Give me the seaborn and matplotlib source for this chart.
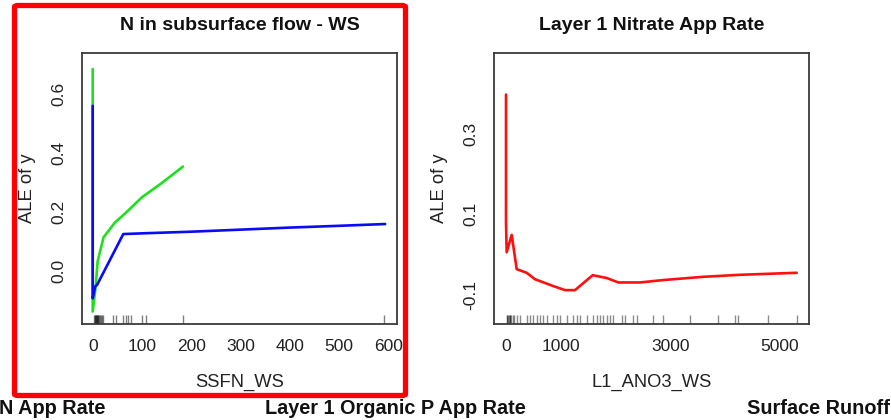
import matplotlib
matplotlib.use("Agg")
import matplotlib.pyplot as plt
from matplotlib.patches import FancyBboxPatch
import seaborn as sns
import pandas as pd

# --- ALE curves ---------------------------------------------------------
ssfn_green_x = [0, 0, 6, 10, 14, 22, 45, 69, 100, 140, 183]
ssfn_green_y = [0.685, -0.138, -0.053, 0.032, 0.06, 0.114, 0.164, 0.200, 0.250, 0.298, 0.354]

ssfn_blue_x = [0, 0, 5, 9, 62, 110, 200, 300, 400, 500, 593]
ssfn_blue_y = [0.56, -0.093, -0.053, -0.047, 0.125, 0.128, 0.133, 0.140, 0.147, 0.153, 0.159]

ano3_x = [0, 0, 12, 104, 195, 377, 529, 864, 1077, 1259, 1582, 1837, 2050,
          2445, 2871, 3600, 4270, 5305]
ano3_y = [0.397, 0.082, 0.006, 0.049, -0.036, -0.045, -0.061, -0.078, -0.088,
          -0.088, -0.051, -0.058, -0.069, -0.069, -0.063, -0.055, -0.050, -0.045]

# --- observed predictor values (rug) ------------------------------------
ssfn_rug = [3, 4, 5, 6, 7, 8, 9, 10, 11, 12, 14, 16, 18, 20,
            41, 47, 62, 67, 72, 77, 99, 108, 184, 590]
ano3_rug = [10, 24, 30, 50, 73, 80, 100, 134, 150, 195, 255, 377, 438, 499, 560,
            620, 681, 742, 864, 925, 985, 1107, 1229, 1290, 1350, 1472, 1594,
            1655, 1715, 1776, 1837, 1898, 1959, 2111, 2172, 2324, 2384, 2689,
            2871, 3358, 3875, 4179, 4240, 4787, 5304]

titles = ["N in subsurface flow - WS", "Layer 1 Nitrate App Rate"]
xlabels = ["SSFN_WS", "L1_ANO3_WS"]
ylabel = "ALE of y"
left_ticks = [0.0, 0.2, 0.4, 0.6]
left_xticks = [0, 100, 200, 300, 400, 500, 600]
right_ticks = [-0.1, 0.0, 0.1, 0.2, 0.3, 0.4]
right_labels = ["-0.1", "", "0.1", "", "0.3", ""]
right_xticks = [0, 1000, 2000, 3000, 4000, 5000]
right_xlabels = ["0", "1000", "", "3000", "", "5000"]
footer = ["N App Rate", "Layer 1 Organic P App Rate", "Surface Runoff"]

sns.set_style("white")
plt.rcParams["font.family"] = ["Liberation Sans", "DejaVu Sans"]

W, H = 891, 420
fig = plt.figure(figsize=(W / 100, H / 100), dpi=100)


def px_axes(x0, y0, x1, y1):
    return fig.add_axes([x0 / W, 1 - y1 / H, (x1 - x0) / W, (y1 - y0) / H])


ax1 = px_axes(82, 53, 397, 324)
ax2 = px_axes(494, 53, 809, 324)

green = pd.DataFrame({"x": ssfn_green_x, "y": ssfn_green_y})
blue = pd.DataFrame({"x": ssfn_blue_x, "y": ssfn_blue_y})
red = pd.DataFrame({"x": ano3_x, "y": ano3_y})

sns.lineplot(data=green, x="x", y="y", sort=False, estimator=None,
             color="#1fe01f", lw=1.9, ax=ax1)
sns.lineplot(data=blue, x="x", y="y", sort=False, estimator=None,
             color="#0a0af5", lw=1.9, ax=ax1)
sns.lineplot(data=red, x="x", y="y", sort=False, estimator=None,
             color="#ff1010", lw=1.9, ax=ax2)

sns.rugplot(x=ssfn_rug, height=0.032, color="black", alpha=0.5, lw=1.0, ax=ax1)
sns.rugplot(x=ano3_rug, height=0.032, color="black", alpha=0.45, lw=1.0, ax=ax2)

ax1.set_xlim(-21.7, 617)
ax1.set_ylim(-0.18, 0.739)
ax2.set_xlim(-219, 5529)
ax2.set_ylim(-0.172, 0.50)

ax1.set_yticks(left_ticks)
ax1.set_yticklabels([f"{v:.1f}" for v in left_ticks])
ax1.set_xticks(left_xticks)
ax1.set_xticklabels([str(v) for v in left_xticks])
ax2.set_yticks(right_ticks)
ax2.set_yticklabels(right_labels)
ax2.set_xticks(right_xticks)
ax2.set_xticklabels(right_xlabels)

for ax, title, xl in zip([ax1, ax2], titles, xlabels):
    for sp in ax.spines.values():
        sp.set_color("#3a3a3a")
        sp.set_linewidth(1.3)
        sp.set_visible(True)
    ax.tick_params(axis="both", direction="out", length=6, width=1.1,
                   color="#3a3a3a", labelsize=12.5, labelcolor="#222222", pad=5)
    for lab in ax.get_yticklabels():
        lab.set_rotation(90)
        lab.set_va("center")
    ax.set_xlabel(xl, fontsize=13.2, color="#222222")
    ax.set_ylabel(ylabel, fontsize=13.2, color="#222222")
    ax.xaxis.label.set_va("center")
    ax.yaxis.label.set_va("center")
    ax.xaxis.set_label_coords(0.5, -(382 - 324) / 271)
    ax.yaxis.set_label_coords(-(82 - 27) / 315, 0.5)
    cx = (ax.get_position().x0 + ax.get_position().x1) / 2
    fig.text(cx, 1 - 25 / H, title, ha="center", va="center",
             fontsize=14, fontweight="bold", color="#111111")

ax2.yaxis.set_label_coords(-(494 - 440) / 315, 0.5)

# partially visible titles of the next row
fig.text(-1 / W, 1 - 409 / H, footer[0], ha="left", va="center",
         fontsize=14.3, fontweight="bold", color="#111111")
fig.text(395 / W, 1 - 409 / H, footer[1], ha="center", va="center",
         fontsize=14.3, fontweight="bold", color="#111111")
fig.text(890 / W, 1 - 409 / H, footer[2], ha="right", va="center",
         fontsize=14.3, fontweight="bold", color="#111111")

# highlight frame round the first panel
frame = FancyBboxPatch((14.5 / W, 1 - 395.5 / H), (405.5 - 14.5) / W,
                       (395.5 - 5.5) / H, boxstyle="round,pad=0,rounding_size=0.004",
                       transform=fig.transFigure, fill=False,
                       edgecolor="#ff0000", lw=3.8)
fig.add_artist(frame)

fig.savefig("out.png", dpi=100)
